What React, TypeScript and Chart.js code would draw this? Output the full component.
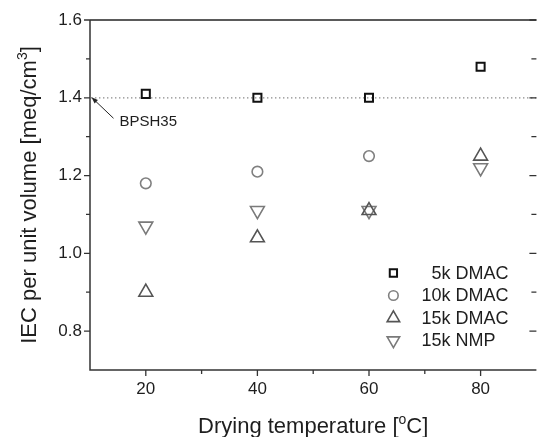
import React, { useEffect, useRef } from 'react';
import { Chart, registerables } from 'chart.js';
import { drawPoint } from 'chart.js/helpers';

Chart.register(...registerables);

// IEC per unit volume of the cast membranes vs. drying temperature
const temperatures = [20, 40, 60, 80];
const iec5kDMAC: (number | null)[] = [1.41, 1.4, 1.4, 1.48];
const iec10kDMAC: (number | null)[] = [1.18, 1.21, 1.25, null];
const iec15kDMAC: (number | null)[] = [0.9, 1.04, 1.11, 1.25];
const iec15kNMP: (number | null)[] = [1.07, 1.11, 1.11, 1.22];
const seriesNames = ['5k DMAC', '10k DMAC', '15k DMAC', '15k NMP'];

const xTickValues = [20, 40, 60, 80];
const xMinorTickValues = [30, 50, 70];
const yTickValues = [0.8, 1.0, 1.2, 1.4, 1.6];
const yMinorTickValues = [0.9, 1.1, 1.3, 1.5];

const referenceLabel = 'BPSH35';
const referenceIEC = 1.4;

const FONT = '"Liberation Sans", Arial, Helvetica, sans-serif';
const TEXT = '#1e1e1e';
const AXIS = '#333333';

const markerStyles = [
  { pointStyle: 'rect', radius: 5.7, color: '#111111', width: 2, rotation: 0 },
  { pointStyle: 'circle', radius: 5.3, color: '#808080', width: 1.6, rotation: 0 },
  { pointStyle: 'triangle', radius: 8, color: '#555555', width: 1.6, rotation: 0 },
  { pointStyle: 'triangle', radius: 8, color: '#7a7a7a', width: 1.6, rotation: 180 },
];

const toPoints = (ys: (number | null)[]) =>
  temperatures
    .map((x, i) => (ys[i] == null ? null : { x, y: ys[i] as number }))
    .filter((p) => p !== null) as { x: number; y: number }[];

// draws a text run made of normal and superscript pieces, centred on x
function drawRichText(
  ctx: CanvasRenderingContext2D,
  parts: { text: string; sup?: boolean }[],
  cx: number,
  baseline: number,
  size: number,
) {
  const supSize = Math.round(size * 0.62);
  const widths = parts.map((p) => {
    ctx.font = `${p.sup ? supSize : size}px ${FONT}`;
    return ctx.measureText(p.text).width;
  });
  const total = widths.reduce((a, b) => a + b, 0);
  let x = cx - total / 2;
  ctx.textAlign = 'left';
  ctx.textBaseline = 'alphabetic';
  parts.forEach((p, i) => {
    ctx.font = `${p.sup ? supSize : size}px ${FONT}`;
    ctx.fillText(p.text, x, p.sup ? baseline - size * 0.42 : baseline);
    x += widths[i];
  });
}

const framePlugin = {
  id: 'frame',
  beforeDatasetsDraw(chart: any) {
    const { ctx, chartArea, scales } = chart;
    const y = scales.y.getPixelForValue(referenceIEC);
    ctx.save();
    ctx.strokeStyle = '#8a8a8a';
    ctx.lineWidth = 1.2;
    ctx.setLineDash([1.4, 2.6]);
    ctx.beginPath();
    ctx.moveTo(chartArea.left + 1, y);
    ctx.lineTo(chartArea.right, y);
    ctx.stroke();
    ctx.restore();
  },
  afterDraw(chart: any) {
    const { ctx, chartArea, scales } = chart;
    const { left, right, top, bottom } = chartArea;
    const xs = scales.x;
    const ys = scales.y;
    ctx.save();

    // frame
    ctx.strokeStyle = '#5a5a5a';
    ctx.lineWidth = 1.8;
    ctx.beginPath();
    ctx.moveTo(left, top);
    ctx.lineTo(right, top);
    ctx.stroke();
    ctx.strokeStyle = AXIS;
    ctx.lineWidth = 1.5;
    ctx.beginPath();
    ctx.moveTo(left, top);
    ctx.lineTo(left, bottom);
    ctx.lineTo(right, bottom);
    ctx.stroke();

    // tick marks
    ctx.lineWidth = 1.3;
    ctx.beginPath();
    yTickValues.forEach((v) => {
      const py = ys.getPixelForValue(v);
      ctx.moveTo(left - 6, py);
      ctx.lineTo(left, py);
      ctx.moveTo(right - 7, py);
      ctx.lineTo(right, py);
    });
    yMinorTickValues.forEach((v) => {
      const py = ys.getPixelForValue(v);
      ctx.moveTo(left - 4, py);
      ctx.lineTo(left, py);
      ctx.moveTo(right - 5, py);
      ctx.lineTo(right, py);
    });
    xTickValues.forEach((v) => {
      const px = xs.getPixelForValue(v);
      ctx.moveTo(px, bottom);
      ctx.lineTo(px, bottom + 6);
    });
    xMinorTickValues.forEach((v) => {
      const px = xs.getPixelForValue(v);
      ctx.moveTo(px, bottom);
      ctx.lineTo(px, bottom + 4);
    });
    ctx.stroke();

    // reference annotation with arrow
    const hx = xs.getPixelForValue(xs.min) + 1.5;
    const hy = ys.getPixelForValue(referenceIEC) - 0.5;
    const tx = hx + 22;
    const ty = hy + 21;
    const ang = Math.atan2(hy - ty, hx - tx);
    ctx.strokeStyle = '#222';
    ctx.fillStyle = '#222';
    ctx.lineWidth = 1;
    ctx.beginPath();
    ctx.moveTo(tx, ty);
    ctx.lineTo(hx + Math.cos(ang + Math.PI) * 4, hy + Math.sin(ang + Math.PI) * 4);
    ctx.stroke();
    ctx.beginPath();
    ctx.moveTo(hx, hy);
    ctx.lineTo(hx - 7 * Math.cos(ang - 0.35), hy - 7 * Math.sin(ang - 0.35));
    ctx.lineTo(hx - 7 * Math.cos(ang + 0.35), hy - 7 * Math.sin(ang + 0.35));
    ctx.closePath();
    ctx.fill();
    ctx.fillStyle = TEXT;
    ctx.font = `15px ${FONT}`;
    ctx.textAlign = 'left';
    ctx.textBaseline = 'alphabetic';
    ctx.fillText(referenceLabel, hx + 28, hy + 29);

    // axis titles
    ctx.fillStyle = TEXT;
    drawRichText(
      ctx,
      [{ text: 'Drying temperature [' }, { text: 'o', sup: true }, { text: 'C]' }],
      (left + right) / 2,
      433,
      22,
    );
    ctx.save();
    ctx.translate(36, (top + bottom) / 2);
    ctx.rotate(-Math.PI / 2);
    drawRichText(
      ctx,
      [{ text: 'IEC per unit volume [meq/cm' }, { text: '3', sup: true }, { text: ']' }],
      0,
      0,
      22,
    );
    ctx.restore();

    // legend
    const symX = right - 143;
    const textX = right - 115;
    const rowY = bottom - 97;
    ctx.font = `18px ${FONT}`;
    const prefixW = seriesNames.map((n) => ctx.measureText(n.split(' ')[0]).width);
    const maxPrefix = Math.max(...prefixW);
    seriesNames.forEach((name, i) => {
      const st = markerStyles[i];
      const y = rowY + i * 22.5;
      ctx.save();
      ctx.strokeStyle = st.color;
      ctx.fillStyle = 'rgba(0,0,0,0)';
      ctx.lineWidth = st.width;
      drawPoint(
        ctx,
        { pointStyle: st.pointStyle as any, rotation: st.rotation, radius: st.radius * 0.9, borderWidth: st.width },
        symX,
        y,
      );
      ctx.restore();
      ctx.fillStyle = TEXT;
      ctx.font = `18px ${FONT}`;
      ctx.textAlign = 'left';
      ctx.textBaseline = 'middle';
      ctx.fillText(name, textX + (maxPrefix - prefixW[i]), y + 1);
    });

    ctx.restore();
  },
};

export default function App() {
  const canvasRef = useRef<HTMLCanvasElement | null>(null);

  useEffect(() => {
    const canvas = canvasRef.current;
    if (!canvas) return;
    const series = [iec5kDMAC, iec10kDMAC, iec15kDMAC, iec15kNMP];
    const chart = new Chart(canvas, {
      type: 'scatter',
      data: {
        datasets: series.map((ys, i) => ({
          label: seriesNames[i],
          data: toPoints(ys),
          showLine: false,
          pointStyle: markerStyles[i].pointStyle as any,
          pointRadius: markerStyles[i].radius,
          pointHoverRadius: markerStyles[i].radius,
          pointRotation: markerStyles[i].rotation,
          pointBorderColor: markerStyles[i].color,
          pointBorderWidth: markerStyles[i].width,
          pointBackgroundColor: 'rgba(0,0,0,0)',
        })),
      },
      options: {
        responsive: false,
        animation: false,
        devicePixelRatio: 1,
        layout: { padding: { top: 20, right: 0, left: 0, bottom: 0 } },
        plugins: { legend: { display: false }, tooltip: { enabled: false } },
        scales: {
          x: {
            type: 'linear',
            min: 10,
            max: 90,
            grid: { display: false, drawTicks: false },
            border: { display: false },
            afterBuildTicks: (s: any) => {
              s.ticks = xTickValues.map((value) => ({ value }));
            },
            afterFit: (s: any) => {
              s.height = 67;
            },
            ticks: {
              padding: 9,
              color: TEXT,
              font: { family: FONT, size: 17 },
              callback: (v: any) => String(v),
            },
          },
          y: {
            type: 'linear',
            min: 0.7,
            max: 1.6,
            grid: { display: false, drawTicks: false },
            border: { display: false },
            afterBuildTicks: (s: any) => {
              s.ticks = yTickValues.map((value) => ({ value }));
            },
            afterFit: (s: any) => {
              s.width = 90;
            },
            ticks: {
              padding: 8,
              color: TEXT,
              font: { family: FONT, size: 17 },
              callback: (v: any) => Number(v).toFixed(1),
            },
          },
        },
      },
      plugins: [framePlugin],
    });
    return () => chart.destroy();
  }, []);

  return (
    <div
      style={{
        position: 'fixed',
        left: 0,
        top: 0,
        width: 545,
        height: 437,
        overflow: 'hidden',
        background: '#ffffff',
      }}
    >
      <canvas ref={canvasRef} width={546} height={437} style={{ display: 'block' }} />
    </div>
  );
}
